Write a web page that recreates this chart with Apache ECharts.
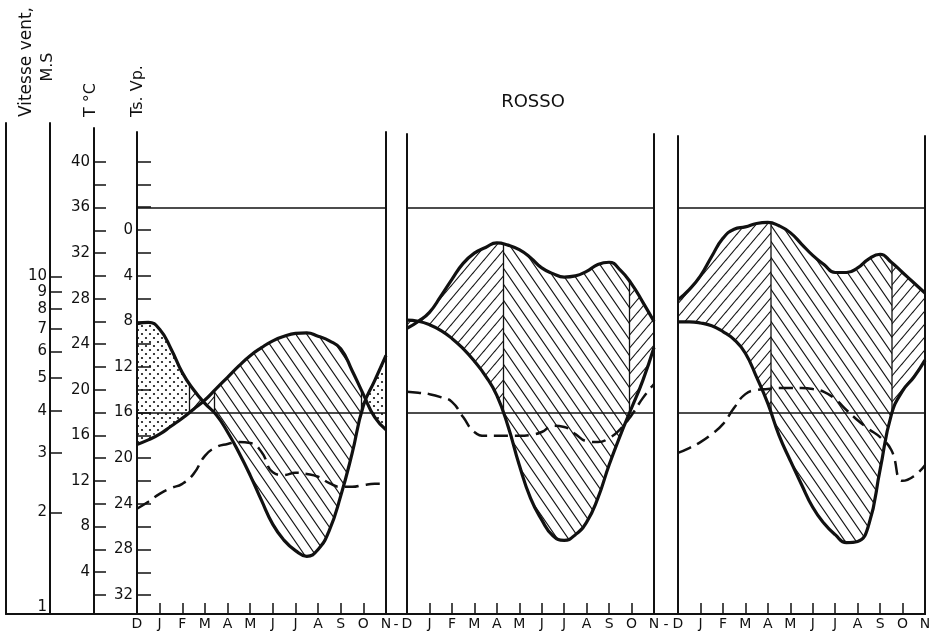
<!DOCTYPE html>
<html>
<head>
<meta charset="utf-8">
<title>ROSSO</title>
<script src="https://cdn.jsdelivr.net/npm/echarts@6/dist/echarts.min.js"></script>
<style>
html, body { margin: 0; padding: 0; background: #ffffff; }
#chart { width: 932px; height: 643px; }
</style>
</head>
<body>
<div id="chart"></div>
<script>
// ---------------- data ----------------
const monthLetters = ['D','J','F','M','A','M','J','J','A','S','O','N'];
const halfMonths = [0,0.5,1,1.5,2,2.5,3,3.5,4,4.5,5,5.5,6,6.5,7,7.5,8,8.5,9,9.5,10,10.5,11];
const monthTickValues = [1,2,3,4,5,6,7,8,9,10];
const monthLabelValues = [0,1,2,3,4,5,6,7,8,9,10,11];

const windTickValues = [2,3,4,5,6,7,8,9,10];
const windLabelValues = [1,2,3,4,5,6,7,8,9,10];
const tempTickValues = [2,4,6,8,10,12,14,16,18,20,22,24,26,28,30,32,34,36,38,40];
const tempLabelValues = [4,8,12,16,20,24,28,32,36,40];
const vpTickValues = [-6,-4,-2,0,2,4,6,8,10,12,14,16,18,20,22,24,26,28,30,32];
const vpLabelValues = [0,4,8,12,16,20,24,28,32];

const tempReference = 36;   // horizontal line, T °C
const vpReference = 16;     // horizontal line, Ts.Vp

const stationName = 'ROSSO';

// panel 1
const p1Temp = [15.2,15.6,16.1,16.8,17.5,18.3,19.1,20.1,21.1,22.1,23.0,23.7,24.3,24.7,24.95,25.0,24.7,24.3,23.6,21.7,19.6,17.6,16.5];
const p1Vp   = [8.2,8.1,8.7,10.4,12.5,14.0,15.2,16.2,17.7,19.5,21.5,23.7,25.8,27.2,28.1,28.6,28.0,26.3,23.3,19.6,15.4,13.2,11.0];
const p1Wind = [2.05,2.15,2.27,2.36,2.43,2.60,2.94,3.12,3.19,3.23,3.21,3.02,2.63,2.58,2.62,2.60,2.55,2.44,2.38,2.38,2.41,2.43,2.43];
// panel 2 (Rosso)
const p2Temp = [25.4,26.0,26.8,28.2,29.7,31.1,32.0,32.5,32.9,32.7,32.3,31.6,30.7,30.2,29.9,30.0,30.4,31.0,31.2,30.5,29.3,27.7,26.0];
const p2Vp   = [7.9,8.0,8.3,8.8,9.5,10.4,11.5,12.8,14.5,17.2,20.6,23.5,25.4,26.8,27.2,26.7,25.6,23.5,20.6,18.0,15.6,13.2,10.3];
const p2Wind = [4.55,4.52,4.48,4.39,4.25,3.83,3.46,3.37,3.37,3.37,3.37,3.39,3.46,3.61,3.58,3.41,3.25,3.23,3.32,3.53,3.88,4.36,4.80];
// panel 3
const p3Temp = [27.9,28.8,30.0,31.7,33.3,34.1,34.3,34.6,34.7,34.4,33.8,32.8,31.8,31.0,30.3,30.3,30.7,31.5,31.9,31.2,30.3,29.4,28.5];
const p3Vp   = [8.05,8.05,8.15,8.4,8.9,9.6,10.8,12.9,15.2,18.0,20.2,22.3,24.3,25.7,26.7,27.4,27.3,25.8,21.0,16.2,14.1,12.9,11.4];
const p3Wind = [3.00,3.10,3.23,3.41,3.65,4.08,4.48,4.61,4.64,4.67,4.67,4.67,4.64,4.55,4.33,4.02,3.75,3.53,3.34,3.06,2.48,2.56,2.76];

const panelData = [
  { temp: p1Temp, vp: p1Vp, wind: p1Wind },
  { temp: p2Temp, vp: p2Vp, wind: p2Wind },
  { temp: p3Temp, vp: p3Vp, wind: p3Wind }
];

// ---------------- layout / style ----------------
const W = 932, H = 643, AXIS_Y = 614, BOTTOM = H - AXIS_Y;
const INK = '#111';
const FAMILY = 'DejaVu Sans';
// axis calibration (pixel scale of the printed axes)
const CAL = { tRefVal: 40, tRefY: 162, tPx: 11.39, vpRefY: 230, vpPx: 11.41, windDecade: 337.6 };
function tRange(top) { return [CAL.tRefVal - (AXIS_Y - CAL.tRefY) / CAL.tPx, CAL.tRefVal + (CAL.tRefY - top) / CAL.tPx]; }
function vpRange(top) { return [(top - CAL.vpRefY) / CAL.vpPx, (AXIS_Y - CAL.vpRefY) / CAL.vpPx]; }
function windMax(top) { return Math.pow(10, (AXIS_Y - top) / CAL.windDecade); }

const panelLayout = [
  { left: 137, right: 386, top: 132 },
  { left: 407, right: 654, top: 134 },
  { left: 678, right: 925, top: 136 }
];

// ---------------- patterns ----------------
function makeHatch(w, h, dir) {
  const c = document.createElement('canvas');
  c.width = w; c.height = h;
  const g = c.getContext('2d');
  g.strokeStyle = INK; g.lineWidth = 1.1;
  for (let k = -1; k <= 1; k++) {
    g.beginPath();
    if (dir === 'back') { g.moveTo(k * w - w, -h); g.lineTo(k * w + 2 * w, 2 * h); }
    else { g.moveTo(k * w - w, 2 * h); g.lineTo(k * w + 2 * w, -h); }
    g.stroke();
  }
  return c;
}
function makeDots(s) {
  const c = document.createElement('canvas');
  c.width = s; c.height = s;
  const g = c.getContext('2d');
  g.fillStyle = INK;
  [[s * 0.25, s * 0.25], [s * 0.75, s * 0.75]].forEach(function (p) {
    g.beginPath(); g.arc(p[0], p[1], 1.1, 0, Math.PI * 2); g.fill();
  });
  return c;
}
const patterns = {
  back: { image: makeHatch(11, 16, 'back'), repeat: 'repeat' },
  fwd: { image: makeHatch(11, 13, 'fwd'), repeat: 'repeat' },
  dot: { image: makeDots(8), repeat: 'repeat' }
};

// ---------------- geometry helpers (same smoothing as the line series) ----------------
function smoothCurve(pts, smooth) {
  const n = pts.length;
  const outCp = new Array(n), inCp = new Array(n);
  outCp[0] = pts[0].slice();
  inCp[n - 1] = pts[n - 1].slice();
  for (let i = 1; i < n - 1; i++) {
    const px = pts[i - 1][0], py = pts[i - 1][1];
    const x = pts[i][0], y = pts[i][1];
    const nx = pts[i + 1][0], ny = pts[i + 1][1];
    let vx = nx - px, vy = ny - py;
    const l0 = Math.hypot(x - px, y - py), l1 = Math.hypot(nx - x, ny - y);
    const r = l1 / (l0 + l1);
    let ncx = x + vx * smooth * r, ncy = y + vy * smooth * r;
    ncx = Math.max(Math.min(ncx, Math.max(nx, x)), Math.min(nx, x));
    ncy = Math.max(Math.min(ncy, Math.max(ny, y)), Math.min(ny, y));
    vx = ncx - x; vy = ncy - y;
    let cx = x - vx * l0 / l1, cy = y - vy * l0 / l1;
    cx = Math.max(Math.min(cx, Math.max(px, x)), Math.min(px, x));
    cy = Math.max(Math.min(cy, Math.max(py, y)), Math.min(py, y));
    vx = x - cx; vy = y - cy;
    ncx = x + vx * l1 / l0; ncy = y + vy * l1 / l0;
    inCp[i] = [cx, cy]; outCp[i] = [ncx, ncy];
  }
  const out = [];
  for (let i = 0; i < n - 1; i++) {
    const a = pts[i], c0 = outCp[i], c1 = inCp[i + 1], b = pts[i + 1];
    for (let s = 0; s < 24; s++) {
      const t = s / 24, u = 1 - t;
      out.push([
        u * u * u * a[0] + 3 * u * u * t * c0[0] + 3 * u * t * t * c1[0] + t * t * t * b[0],
        u * u * u * a[1] + 3 * u * u * t * c0[1] + 3 * u * t * t * c1[1] + t * t * t * b[1]
      ]);
    }
  }
  out.push(pts[n - 1].slice());
  return out;
}
function sampleCurve(poly, xs) {
  const res = []; let j = 0;
  for (let q = 0; q < xs.length; q++) {
    const x = xs[q];
    while (j < poly.length - 2 && poly[j + 1][0] < x) j++;
    const a = poly[j], b = poly[j + 1];
    const t = b[0] === a[0] ? 0 : Math.max(0, Math.min(1, (x - a[0]) / (b[0] - a[0])));
    res.push(a[1] + (b[1] - a[1]) * t);
  }
  return res;
}

let chart = null;
const panelAxis = [0, 1, 2].map(function (k) { return { x: 3 + k, vp: 3 + 3 * k, t: 4 + 3 * k, wind: 5 + 3 * k }; });

function makeFill(k) {
  return function (params, api) {
    if (params.dataIndex !== 0) return null;
    const d = panelData[k];
    const tIdx = panelAxis[k].t;
    const ptsV = halfMonths.map(function (m, i) { return api.coord([m, d.vp[i]]); });
    const ptsT = halfMonths.map(function (m, i) { return [ptsV[i][0], chart.convertToPixel({ yAxisIndex: tIdx }, d.temp[i])]; });
    const y16 = api.coord([0, vpReference])[1];
    const xMid = api.coord([5.5, 0])[0];
    const cT = smoothCurve(ptsT, 0.5), cV = smoothCurve(ptsV, 0.5);
    const x0 = ptsV[0][0], x1 = ptsV[ptsV.length - 1][0];
    const xs = [];
    for (let x = x0; x < x1; x += 0.5) xs.push(x);
    xs.push(x1);
    const yT = sampleCurve(cT, xs), yV = sampleCurve(cV, xs);
    const cls = [];
    for (let j = 0; j < xs.length - 1; j++) {
      const t = (yT[j] + yT[j + 1]) / 2, v = (yV[j] + yV[j + 1]) / 2;
      let c;
      if (v < t) c = (t > y16 || xs[j] > xMid) ? 'dot' : 'fwd';
      else c = v < y16 ? 'fwd' : 'back';
      cls.push(c);
    }
    const children = [];
    const bounds = [];
    let start = 0;
    for (let j = 1; j <= cls.length; j++) {
      if (j === cls.length || cls[j] !== cls[start]) {
        const top = [], bot = [];
        for (let q = start; q <= j; q++) {
          top.push([xs[q], Math.min(yT[q], yV[q])]);
          bot.push([xs[q], Math.max(yT[q], yV[q])]);
        }
        children.push({ type: 'polygon', shape: { points: top.concat(bot.reverse()) }, style: { fill: patterns[cls[start]], stroke: null } });
        if (j < cls.length) bounds.push(j);
        start = j;
      }
    }
    bounds.forEach(function (q) {
      const a = Math.min(yT[q], yV[q]), b = Math.max(yT[q], yV[q]);
      if (b - a > 1.5) children.push({ type: 'line', shape: { x1: xs[q], y1: a, x2: xs[q], y2: b }, style: { stroke: INK, lineWidth: 1.3 } });
    });
    return { type: 'group', children: children };
  };
}

// ---------------- option ----------------
const grids = [], xAxes = [], yAxes = [], series = [];
const hiddenX = function (gi) { return { gridIndex: gi, type: 'value', min: 0, max: 1, show: false }; };
const lineOnly = { show: true, onZero: false, lineStyle: { color: INK, width: 2 } };

// frame: leftmost line and continuous bottom line
grids.push({ left: 6, right: W - 925, top: 123, bottom: BOTTOM, outerBoundsMode: 'none', containLabel: false });
xAxes.push({ gridIndex: 0, type: 'value', min: 0, max: 1, axisLine: lineOnly, axisTick: { show: false }, axisLabel: { show: false }, splitLine: { show: false } });
yAxes.push({ gridIndex: 0, type: 'value', min: 0, max: 1, position: 'left', axisLine: lineOnly, axisTick: { show: false }, axisLabel: { show: false }, splitLine: { show: false } });

// wind speed axis (log)
grids.push({ left: 50, width: 30, top: 123, bottom: BOTTOM, outerBoundsMode: 'none', containLabel: false });
xAxes.push(hiddenX(1));
yAxes.push({
  gridIndex: 1, type: 'log', logBase: 10, min: 1, max: windMax(123), position: 'left',
  axisLine: lineOnly,
  axisTick: { show: true, inside: true, length: 12, customValues: windTickValues, lineStyle: { color: INK, width: 1.5 } },
  minorTick: { show: false },
  axisLabel: {
    show: true, customValues: windLabelValues, margin: 3, color: INK, fontFamily: FAMILY, fontSize: 15, hideOverlap: false,
    formatter: function (v) { return Math.round(v) === 1 ? '{lift|1}' : String(Math.round(v)); },
    rich: { lift: { fontFamily: FAMILY, fontSize: 15, color: INK, padding: [0, 0, 14, 0] } }
  },
  splitLine: { show: false }
});

// temperature axis
const tAxisTop = 128;
grids.push({ left: 94, width: 30, top: tAxisTop, bottom: BOTTOM, outerBoundsMode: 'none', containLabel: false });
xAxes.push(hiddenX(2));
yAxes.push({
  gridIndex: 2, type: 'value', min: tRange(tAxisTop)[0], max: tRange(tAxisTop)[1], position: 'left',
  axisLine: lineOnly,
  axisTick: { show: true, inside: true, length: 12, customValues: tempTickValues, lineStyle: { color: INK, width: 1.5 } },
  axisLabel: { show: true, customValues: tempLabelValues, margin: 4, color: INK, fontFamily: FAMILY, fontSize: 15, hideOverlap: false },
  splitLine: { show: false }
});

// panels
panelLayout.forEach(function (L, k) {
  const gi = 3 + k;
  grids.push({ left: L.left, width: L.right - L.left, top: L.top, bottom: BOTTOM, outerBoundsMode: 'none', containLabel: false });
  xAxes.push({
    gridIndex: gi, type: 'value', min: 0, max: 11,
    axisLine: lineOnly,
    axisTick: { show: true, inside: true, length: 11, customValues: monthTickValues, lineStyle: { color: INK, width: 1.5 } },
    axisLabel: {
      show: true, customValues: monthLabelValues, margin: 3, color: INK, fontFamily: FAMILY, fontSize: 14, hideOverlap: false,
      formatter: function (v) { return monthLetters[Math.round(v)]; }
    },
    splitLine: { show: false }
  });
  const vr = vpRange(L.top), tr = tRange(L.top);
  yAxes.push({
    gridIndex: gi, type: 'value', inverse: true, min: vr[0], max: vr[1], position: 'left',
    axisLine: lineOnly,
    axisTick: { show: k === 0, inside: true, length: 14, customValues: vpTickValues, lineStyle: { color: INK, width: 1.5 } },
    axisLabel: { show: k === 0, customValues: vpLabelValues, margin: 4, color: INK, fontFamily: FAMILY, fontSize: 15, hideOverlap: false },
    splitLine: { show: false }
  });
  yAxes.push({
    gridIndex: gi, type: 'value', min: tr[0], max: tr[1], position: 'right',
    axisLine: lineOnly, axisTick: { show: false }, axisLabel: { show: false }, splitLine: { show: false }
  });
  yAxes.push({ gridIndex: gi, type: 'log', logBase: 10, min: 1, max: windMax(L.top), position: 'left', show: false, splitLine: { show: false } });

  const A = panelAxis[k], d = panelData[k];
  series.push({
    type: 'custom', coordinateSystem: 'cartesian2d', xAxisIndex: A.x, yAxisIndex: A.vp,
    data: [[0, 0]], renderItem: makeFill(k), silent: true, z: 1, clip: false, animation: false
  });
  series.push({
    name: 'T' + (k + 1), type: 'line', xAxisIndex: A.x, yAxisIndex: A.t,
    data: halfMonths.map(function (m, i) { return [m, d.temp[i]]; }),
    smooth: true, showSymbol: false, symbol: 'none', z: 3,
    lineStyle: { color: INK, width: 3.2 },
    markLine: { silent: true, symbol: 'none', label: { show: false }, animation: false,
      lineStyle: { color: INK, width: 1.5, type: 'solid' }, data: [{ yAxis: tempReference }] }
  });
  series.push({
    name: 'Vp' + (k + 1), type: 'line', xAxisIndex: A.x, yAxisIndex: A.vp,
    data: halfMonths.map(function (m, i) { return [m, d.vp[i]]; }),
    smooth: true, showSymbol: false, symbol: 'none', z: 3,
    lineStyle: { color: INK, width: 3.2 },
    markLine: { silent: true, symbol: 'none', label: { show: false }, animation: false,
      lineStyle: { color: INK, width: 1.5, type: 'solid' }, data: [{ yAxis: vpReference }] }
  });
  series.push({
    name: 'Vent' + (k + 1), type: 'line', xAxisIndex: A.x, yAxisIndex: A.wind,
    data: halfMonths.map(function (m, i) { return [m, d.wind[i]]; }),
    smooth: true, showSymbol: false, symbol: 'none', z: 3,
    lineStyle: { color: INK, width: 2.5, type: [14, 7] }
  });
});

const textStyle = function (txt, size) {
  return { text: txt, fill: INK, font: size + 'px "' + FAMILY + '"', align: 'center', verticalAlign: 'middle' };
};

const option = {
  backgroundColor: '#ffffff',
  animation: false,
  grid: grids,
  xAxis: xAxes,
  yAxis: yAxes,
  series: series,
  graphic: [
    { type: 'text', x: 27, y: 62, rotation: Math.PI / 2, style: textStyle('Vitesse vent,', 17) },
    { type: 'text', x: 48, y: 67, rotation: Math.PI / 2, style: textStyle('M.S', 16) },
    { type: 'text', x: 91, y: 100, rotation: Math.PI / 2, style: textStyle('T °C', 16) },
    { type: 'text', x: 138, y: 91, rotation: Math.PI / 2, style: textStyle('Ts. Vp.', 16) },
    { type: 'text', x: 533, y: 102, style: textStyle(stationName, 18) },
    { type: 'text', x: 396, y: 625, style: textStyle('-', 14) },
    { type: 'text', x: 666, y: 625, style: textStyle('-', 14) }
  ]
};

chart = echarts.init(document.getElementById('chart'), null, { renderer: 'canvas', width: W, height: H });
chart.setOption(option);
</script>
</body>
</html>
